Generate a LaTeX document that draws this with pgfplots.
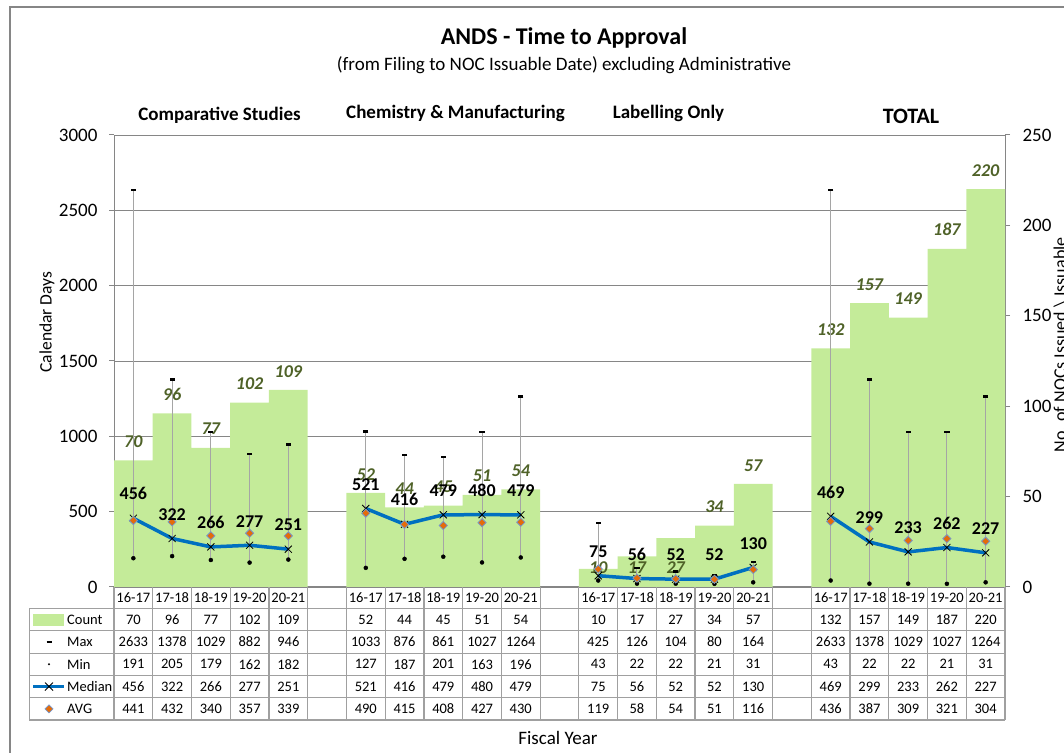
\documentclass[border=0pt]{standalone}
\usepackage{fontspec}
\setmainfont{Carlito}
\usepackage{pgfplots}
\pgfplotsset{compat=1.18}
\usepackage{pgfplotstable}
\definecolor{barg}{RGB}{196,235,153}
\definecolor{olivec}{RGB}{79,98,40}
\definecolor{medblue}{RGB}{0,112,192}
\definecolor{avgor}{RGB}{228,108,10}
\definecolor{avgedge}{RGB}{120,150,200}
\definecolor{gridc}{RGB}{134,134,134}
\definecolor{tabc}{RGB}{160,160,160}
\definecolor{hlc}{RGB}{165,165,165}

\pgfplotstableread{
x cnt dy
0 70 0
1 96 0
2 77 0
3 102 0
4 109 0
6 52 0
7 44 0
8 45 0
9 51 0
10 54 0
12 10 18
13 17 30
14 27 48
15 34 0
16 57 0
18 132 0
19 157 0
20 149 0
21 187 0
22 220 0
}\counts

\pgfplotstableread{
x max min med avg
0 2633 191 456 441
1 1378 205 322 432
2 1029 179 266 340
3 882 162 277 357
4 946 182 251 339
6 1033 127 521 490
7 876 187 416 415
8 861 201 479 408
9 1027 163 480 427
10 1264 196 479 430
12 425 43 75 119
13 126 22 56 58
14 104 22 52 54
15 80 21 52 51
16 164 31 130 116
18 2633 43 469 436
19 1378 22 299 387
20 1029 22 233 309
21 1027 21 262 321
22 1264 31 227 304
}\stats

\pgfplotstableread{
x med
0 456
1 322
2 266
3 277
4 251
5 nan
6 521
7 416
8 479
9 480
10 479
11 nan
12 75
13 56
14 52
15 52
16 130
17 nan
18 469
19 299
20 233
21 262
22 227
}\medtab

\pgfplotsset{
  base/.style={at={(114pt,165pt)}, anchor=south west, scale only axis,
    width=891pt, height=452pt, xmin=-0.5, xmax=22.5,
    /pgf/number format/1000 sep={}, /pgf/number format/assume math mode=true,
    ticklabel style={font=\fontsize{19}{22}\selectfont},
    tick align=outside, major tick length=5pt,
    tick style={gridc, line width=1pt},
    axis line style={gridc, line width=1pt}},
}

\begin{document}
\begin{tikzpicture}
\useasboundingbox (0pt,0pt) rectangle (1064pt,752pt);
\draw[gridc, line width=1.2pt] (10pt,-10pt) -- (10pt,745pt) -- (1080pt,745pt);

% background axis: left scale and grid
\begin{axis}[base, ymin=0, ymax=3000,
  axis x line*=bottom, axis y line*=left,
  xtick=\empty, ytick={0,500,...,3000},
  yticklabel style={xshift=-8pt},
  ymajorgrids, grid style={gridc, line width=0.9pt}]
\end{axis}

% counts (right scale)
\begin{axis}[base, ymin=0, ymax=250,
  axis y line*=right, axis x line=none,
  ytick={0,50,...,250},
  yticklabel style={xshift=9pt},
  ybar, bar width=1,
  nodes near coords,
  visualization depends on={\thisrow{dy} \as \dy},
  every node near coord/.append style={font=\bfseries\itshape\fontsize{18}{20}\selectfont,
    text=olivec, anchor=south, inner sep=1pt, yshift=11.6pt-\dy pt}]
\addplot[fill=barg, draw=none] table[x=x, y=cnt] {\counts};
\end{axis}

% days series
\begin{axis}[base, ymin=0, ymax=3000, hide axis, clip=false]
\addplot[only marks, mark=none, forget plot,
  error bars/.cd, y dir=plus, y explicit, error mark=none,
  error bar style={hlc, line width=1pt}]
  table[x=x, y=min, y error expr=\thisrow{max}-\thisrow{min}] {\stats};
\addplot[only marks, mark=-, mark size=2.6pt, mark options={black, line width=2.4pt}]
  table[x=x, y=max] {\stats};
\addplot[only marks, mark=*, mark size=1.2pt, mark options={black}]
  table[x=x, y=min] {\stats};
\addplot[medblue, line width=3.5pt, mark=none, unbounded coords=jump]
  table[x=x, y=med] {\medtab};
\addplot[only marks, mark=x, mark size=5pt, mark options={black, line width=0.8pt}]
  table[x=x, y=med] {\stats};
\addplot[only marks, mark=square*, mark size=2.9pt,
  mark options={rotate=45, fill=avgor, draw=avgedge, line width=0.8pt}]
  table[x=x, y=avg] {\stats};
\addplot[draw=none, mark=none, nodes near coords, point meta=explicit,
  every node near coord/.append style={font=\bfseries\fontsize{18}{20}\selectfont,
    text=black, anchor=south, inner sep=1pt, yshift=17pt}]
  table[x=x, y=med, meta=med] {\stats};
\end{axis}

\begin{scope}[x=1pt, y=-1pt, shift={(0pt,752pt)}]
% titles
\node[anchor=base, font=\bfseries\fontsize{24}{28}\selectfont] at (564,45) {ANDS - Time to Approval};
\node[anchor=base, font=\fontsize{19}{22}\selectfont] at (564,71) {(from Filing to NOC Issuable Date) excluding Administrative};
\node[anchor=base, font=\bfseries\fontsize{19}{22}\selectfont] at (219.5,121) {Comparative Studies};
\node[anchor=base, font=\bfseries\fontsize{19}{22}\selectfont] at (455.5,119) {Chemistry \& Manufacturing};
\node[anchor=base, font=\bfseries\fontsize{19}{22}\selectfont] at (668.5,119) {Labelling Only};
\node[anchor=base, font=\bfseries\fontsize{22}{26}\selectfont] at (911,124) {TOTAL};
\node[anchor=base, font=\fontsize{19}{22}\selectfont] at (558,744) {Fiscal Year};
\node[rotate=90, font=\fontsize{17.5}{20}\selectfont] at (47,322) {Calendar Days};
\node[rotate=90, anchor=north, font=\fontsize{18}{20}\selectfont] at (1050,345) {No. of NOCs Issued \textbackslash{} Issuable};

% data table grid
\foreach \k in {0,...,23}
  \draw[tabc, line width=1.2pt] ({114+\k*38.7391},587) -- ({114+\k*38.7391},720);
\foreach \r in {608.5,630.8,653.1,675.4,697.7,720}
  \draw[tabc, line width=1.2pt] (29.3,\r) -- (1005,\r);
\draw[tabc, line width=1.2pt] (29.3,608.5) -- (29.3,720);

\begin{scope}[font=\fontsize{14.5}{16}\selectfont]
\foreach \t [count=\i from 0] in {16-17,17-18,18-19,19-20,20-21,,16-17,17-18,18-19,19-20,20-21,,16-17,17-18,18-19,19-20,20-21,,16-17,17-18,18-19,19-20,20-21}
  \node at ({114+(\i+0.5)*38.7391},597.75) {\t};
\foreach \t [count=\i from 0] in {70,96,77,102,109,,52,44,45,51,54,,10,17,27,34,57,,132,157,149,187,220}
  \node at ({114+(\i+0.5)*38.7391},619.65) {\t};
\foreach \t [count=\i from 0] in {2633,1378,1029,882,946,,1033,876,861,1027,1264,,425,126,104,80,164,,2633,1378,1029,1027,1264}
  \node at ({114+(\i+0.5)*38.7391},641.95) {\t};
\foreach \t [count=\i from 0] in {191,205,179,162,182,,127,187,201,163,196,,43,22,22,21,31,,43,22,22,21,31}
  \node at ({114+(\i+0.5)*38.7391},664.25) {\t};
\foreach \t [count=\i from 0] in {456,322,266,277,251,,521,416,479,480,479,,75,56,52,52,130,,469,299,233,262,227}
  \node at ({114+(\i+0.5)*38.7391},686.55) {\t};
\foreach \t [count=\i from 0] in {441,432,340,357,339,,490,415,408,427,430,,119,58,54,51,116,,436,387,309,321,304}
  \node at ({114+(\i+0.5)*38.7391},708.85) {\t};
% legend column
\fill[barg] (33,613.5) rectangle (64,625.5);
\node[anchor=west, inner sep=0pt] at (67,619.65) {Count};
\draw[black, line width=2.4pt] (46.5,641.95) -- (51.5,641.95);
\node[anchor=west, inner sep=0pt] at (67,641.95) {Max};
\fill[black] (49,664.25) circle (1.2);
\node[anchor=west, inner sep=0pt] at (67,664.25) {Min};
\draw[medblue, line width=3.5pt] (33,686.55) -- (64,686.55);
\draw[black, line width=0.8pt] (45,682.55) -- (53,690.55) (45,690.55) -- (53,682.55);
\node[anchor=west, inner sep=0pt] at (67,686.55) {Median};
\filldraw[fill=avgor, draw=avgedge, line width=0.8pt] (49,704.85) -- (53,708.85) -- (49,712.85) -- (45,708.85) -- cycle;
\node[anchor=west, inner sep=0pt] at (67,708.85) {AVG};
\end{scope}
\end{scope}
\end{tikzpicture}
\end{document}
